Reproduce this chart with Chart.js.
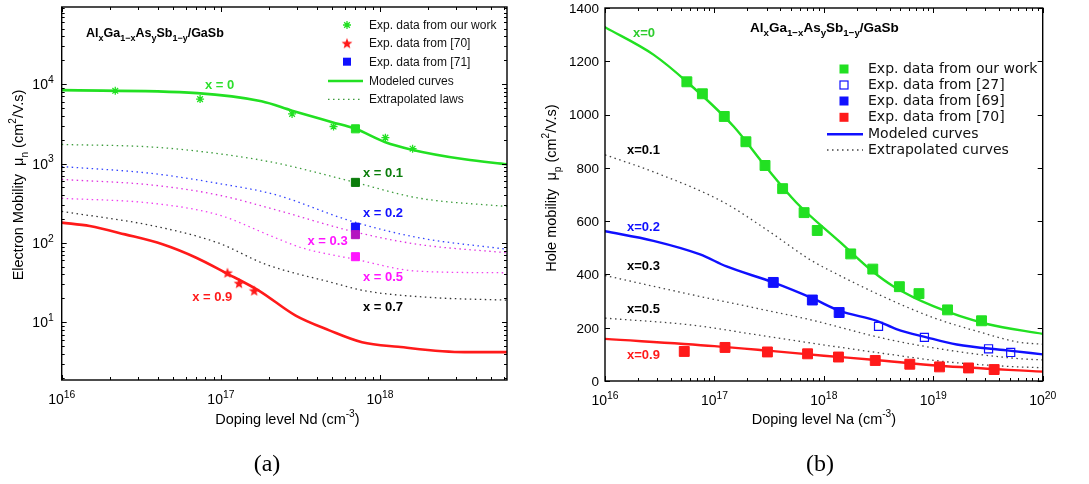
<!DOCTYPE html>
<html><head><meta charset="utf-8">
<script src="https://cdn.jsdelivr.net/npm/chart.js@4"></script>
<style>
html,body{margin:0;padding:0;background:#fff;}
body{width:1089px;height:484px;position:relative;overflow:hidden;}
#ca{position:absolute;left:0;top:0;}
#cb{position:absolute;left:540px;top:0;}
</style></head><body>
<canvas id="ca" width="540" height="484"></canvas>
<canvas id="cb" width="549" height="484"></canvas>
<script>
// ================= (a) Electron mobility =================
const aXTicks = [1e16, 1e17, 1e18];
const aYTicks = [1e1, 1e2, 1e3, 1e4];
const aXRange = [1e16, 6.27e18];
const aYRange = [1.87, 9.4e4];

const aModelX0Nd  = [1e16, 7.1e16, 1.8e17, 2.8e17, 5e17, 7e17, 1.07e18, 1.58e18, 3.4e18, 6.27e18];
const aModelX0Mu  = [8410, 7720, 6080, 4640, 3320, 2740, 1870, 1496, 1130, 980];
const aModelX09Nd = [1e16, 1.5e16, 2.5e16, 4.3e16, 7e16, 1.07e17, 1.74e17, 2.95e17, 4.8e17, 7.7e17, 1.3e18, 3.4e18, 6.27e18];
const aModelX09Mu = [180, 163, 128, 96, 65, 42, 24.9, 12.1, 7.9, 5.6, 4.9, 4.2, 4.2];
const aExtX01Nd = [1e16, 3.7e16, 9.6e16, 2.2e17, 6.6e17, 1.72e18, 6.27e18];
const aExtX01Mu = [1740, 1615, 1334, 1020, 596, 369, 287];
const aExtX02Nd = [1e16, 3.7e16, 9.6e16, 2.2e17, 6.6e17, 1.72e18, 6.27e18];
const aExtX02Mu = [917, 750, 562, 405, 188, 117, 83];
const aExtX03Nd = [1e16, 3.7e16, 9.6e16, 2.2e17, 6.6e17, 1.72e18, 6.27e18];
const aExtX03Mu = [631, 536, 402, 262, 141, 96, 75];
const aExtX05Nd = [1e16, 3.7e16, 9.6e16, 2.2e17, 3.2e17, 7e17, 1.72e18, 6.27e18];
const aExtX05Mu = [365, 316, 226, 116, 87, 62, 44, 42];
const aExtX07Nd = [1e16, 3.7e16, 9.6e16, 1.9e17, 5e17, 8e17, 2.1e18, 6.27e18];
const aExtX07Mu = [249, 165, 100, 54, 31.6, 24.9, 20.5, 19];
const aOurWorkNd = [2.17e16, 7.4e16, 2.8e17, 5.1e17, 1.08e18, 1.6e18];
const aOurWorkMu = [8250, 6490, 4220, 2930, 2120, 1540];
const aRef70Nd = [1.1e17, 1.3e17, 1.62e17];
const aRef70Mu = [42, 31, 25];
const aRef71Nd = [7e17, 7e17, 7e17, 7e17, 7e17];
const aRef71Mu = [2740, 579, 158, 127, 67];
const aRef71Colors = ['#22e022', '#0b7d0b', '#1010ff', '#b414c0', '#ff14ff'];
const aLabelText = ['x = 0', 'x = 0.1', 'x = 0.2', 'x = 0.3', 'x = 0.5', 'x = 0.7', 'x = 0.9'];
const aLabelNd   = [7.95e16, 7.8e17, 7.8e17, 3.5e17, 7.8e17, 7.8e17, 6.6e16];
const aLabelMu   = [9630, 743, 235, 105, 36.2, 15.3, 20.4];
const aLabelColor = ['#2ddf2d', '#0b7d0b', '#1010ff', '#ff14ff', '#ff14ff', '#000000', '#ff1a1a'];

// ================= (b) Hole mobility =================
const bXTicks = [1e16, 1e17, 1e18, 1e19, 1e20];
const bYTicks = [0, 200, 400, 600, 800, 1000, 1200, 1400];
const bXRange = [1e16, 1e20];
const bYRange = [0, 1400];

const bModelX0Na  = [1e16, 2.77e16, 5.6e16, 1.5e17, 3e17, 5.6e17, 1.4e18, 2.8e18, 4.3e18, 1e19, 3.1e19, 1e20];
const bModelX0Mu  = [1328, 1225, 1123, 955, 800, 670, 522, 411, 356, 281, 214, 177];
const bModelX02Na = [1e16, 2.77e16, 7.4e16, 1.29e17, 3.45e17, 8e17, 1.4e18, 3.04e18, 4.6e18, 8.7e18, 1.64e19, 4.7e19, 1e20];
const bModelX02Mu = [562, 526, 475, 430, 370, 309, 263, 226, 195, 164, 137, 115, 100];
const bModelX09Na = [1e16, 1e17, 3.45e17, 1e18, 2.8e18, 1.15e19, 1e20];
const bModelX09Mu = [158, 131, 112, 95, 80, 57, 35];
const bExtX01Na = [1e16, 2.77e16, 1.2e17, 3.2e17, 7.5e17, 1.35e18, 3.7e18, 1e19, 2.7e19, 6e19, 1e20];
const bExtX01Mu = [849, 785, 672, 560, 455, 399, 312, 238, 183, 146, 138];
const bExtX03Na = [1e16, 6.2e16, 2.3e17, 7.5e17, 3.7e18, 1.4e19, 6e19, 1e20];
const bExtX03Mu = [396, 324, 275, 230, 158, 115, 84, 79];
const bExtX05Na = [1e16, 6.2e16, 2.3e17, 7.5e17, 3.7e18, 1.4e19, 6e19, 1e20];
const bExtX05Mu = [236, 210, 175, 143, 102, 71, 53, 50];
const bOurWorkNa = [5.6e16, 7.76e16, 1.23e17, 1.94e17, 2.9e17, 4.2e17, 6.6e17, 8.7e17, 1.76e18, 2.8e18, 4.9e18, 7.4e18, 1.35e19, 2.76e19];
const bOurWorkMu = [1123, 1078, 993, 898, 809, 722, 632, 565, 477, 420, 354, 328, 267, 226];
const bRef27Na = [3.16e18, 8.3e18, 3.2e19, 5.1e19];
const bRef27Mu = [205, 164, 121, 107];
const bRef69Na = [3.45e17, 7.85e17, 1.38e18];
const bRef69Mu = [370, 304, 257];
const bRef70Na = [5.3e16, 1.25e17, 3.05e17, 7.1e17, 1.36e18, 2.95e18, 6.1e18, 1.14e19, 2.1e19, 3.6e19];
const bRef70Mu = [111, 126, 109, 102, 90, 77, 63, 53, 49, 43];
const bLabelText = ['x=0', 'x=0.1', 'x=0.2', 'x=0.3', 'x=0.5', 'x=0.9'];
const bLabelNa   = [1.8e16, 1.59e16, 1.59e16, 1.59e16, 1.59e16, 1.59e16];
const bLabelMu   = [1304, 867, 578, 430, 270, 96];
const bLabelColor = ['#2ecc2e', '#000000', '#1010ff', '#000000', '#000000', '#ff1a1a'];

// ================= helpers =================
const SANS = '"Liberation Sans", Arial, Helvetica, sans-serif';
const DEJA = '"DejaVu Sans", sans-serif';
const SERIF = '"Liberation Serif", "DejaVu Serif", serif';
const GREEN = '#22e022', RED = '#ff1a1a', BLUE = '#1010ff';

function pts(xs, ys) { return xs.map((v, i) => ({x: v, y: ys[i]})); }

function makePentagram(size, color) {
  const c = document.createElement('canvas');
  c.width = size; c.height = size;
  const g = c.getContext('2d');
  const cx = size / 2, cy = size / 2 + 0.5, R = size / 2 - 0.3, r = R * 0.42;
  g.beginPath();
  for (let i = 0; i < 10; i++) {
    const ang = -Math.PI / 2 + i * Math.PI / 5;
    const rr = i % 2 === 0 ? R : r;
    const px = cx + rr * Math.cos(ang), py = cy + rr * Math.sin(ang);
    if (i === 0) g.moveTo(px, py); else g.lineTo(px, py);
  }
  g.closePath();
  g.fillStyle = color; g.fill();
  return c;
}
const pentaRed = makePentagram(12, RED);

function lineDs(xs, ys, color, width, dash, order) {
  return {data: pts(xs, ys), showLine: true, borderColor: color, borderWidth: width,
    borderDash: dash || [], pointRadius: 0, fill: false, cubicInterpolationMode: 'monotone',
    borderCapStyle: dash ? 'butt' : 'round', order: order};
}
function markDs(xs, ys, style, r, fill, stroke, bw) {
  return {data: pts(xs, ys), showLine: false, pointStyle: style, pointRadius: r,
    backgroundColor: fill, borderColor: stroke, borderWidth: bw, order: 0};
}

function drawRich(ctx, parts, x, y, size, opts) {
  const o = Object.assign({weight: 'normal', family: SANS, color: '#000', align: 'left', ratio: 0.7}, opts || {});
  const segs = parts.map(([t, k]) => {
    const s = k === 'n' ? size : size * o.ratio;
    ctx.font = `${o.weight} ${s}px ${o.family}`;
    return {t, k, s, w: ctx.measureText(t).width};
  });
  const total = segs.reduce((a, s) => a + s.w, 0);
  let cx = o.align === 'center' ? x - total / 2 : o.align === 'right' ? x - total : x;
  ctx.fillStyle = o.color; ctx.textBaseline = 'alphabetic'; ctx.textAlign = 'left';
  for (const s of segs) {
    ctx.font = `${o.weight} ${s.s}px ${o.family}`;
    const dy = s.k === 'sub' ? size * 0.33 : s.k === 'sup' ? -size * 0.45 : 0;
    ctx.fillText(s.t, cx, y + dy);
    cx += s.w;
  }
  return total;
}

function logTickList(min, max) {
  const out = [];
  for (let d = Math.floor(Math.log10(min)); d <= Math.ceil(Math.log10(max)); d++) {
    for (let k = 1; k <= 9; k++) {
      const v = k * Math.pow(10, d);
      if (v >= min * 0.9999 && v <= max * 1.0001) out.push({v, major: k === 1});
    }
  }
  return out;
}

function drawMarker(ctx, kind, x, y, color) {
  ctx.save();
  if (kind === 'asterisk') {
    ctx.strokeStyle = color; ctx.lineWidth = 1.3; const r = 4;
    ctx.beginPath();
    ctx.moveTo(x - r, y); ctx.lineTo(x + r, y); ctx.moveTo(x, y - r); ctx.lineTo(x, y + r);
    const q = r * 0.707;
    ctx.moveTo(x - q, y - q); ctx.lineTo(x + q, y + q); ctx.moveTo(x - q, y + q); ctx.lineTo(x + q, y - q);
    ctx.stroke();
  } else if (kind === 'penta') {
    ctx.drawImage(pentaRed, x - 6, y - 6);
  } else if (kind === 'square') {
    ctx.fillStyle = color; ctx.fillRect(x - 4.5, y - 4.5, 9, 9);
  } else if (kind === 'squareS') {
    ctx.fillStyle = color; ctx.fillRect(x - 4, y - 4, 8, 8);
  } else if (kind === 'open') {
    ctx.strokeStyle = color; ctx.lineWidth = 1.2; ctx.strokeRect(x - 4, y - 4, 8, 8);
  }
  ctx.restore();
}

const decorPlugin = {
  id: 'decor',
  afterDatasetsDraw(chart, args, o) {
    const {ctx, chartArea: a, scales: {x, y}} = chart;
    ctx.save();
    // inline labels
    o.labels.forEach(l => {
      ctx.font = `bold ${o.labelSize}px ${SANS}`;
      ctx.fillStyle = l.color; ctx.textAlign = 'left'; ctx.textBaseline = 'middle';
      ctx.fillText(l.text, x.getPixelForValue(l.x), y.getPixelForValue(l.y));
    });
    // frame
    ctx.strokeStyle = '#000'; ctx.lineWidth = 1.4;
    ctx.strokeRect(a.left, a.top, a.right - a.left, a.bottom - a.top);
    // ticks (inward, mirrored)
    ctx.lineWidth = 1;
    const xt = logTickList(x.min, x.max);
    ctx.beginPath();
    xt.forEach(t => {
      const px = Math.round(x.getPixelForValue(t.v)) + 0.5, len = t.major ? 5 : 3;
      ctx.moveTo(px, a.bottom); ctx.lineTo(px, a.bottom - len);
      ctx.moveTo(px, a.top); ctx.lineTo(px, a.top + len);
    });
    const yt = o.yLog ? logTickList(y.min, y.max) : o.yTicks.map(v => ({v, major: true}));
    yt.forEach(t => {
      const py = Math.round(y.getPixelForValue(t.v)) + 0.5, len = t.major ? 5 : 3;
      ctx.moveTo(a.left, py); ctx.lineTo(a.left + len, py);
      ctx.moveTo(a.right, py); ctx.lineTo(a.right - len, py);
    });
    ctx.stroke();
    // tick labels
    o.xTicks.forEach(v => {
      const e = Math.round(Math.log10(v));
      drawRich(ctx, [['10', 'n'], [String(e), 'sup']], x.getPixelForValue(v), a.bottom + 24, o.tickSize, {align: 'center', ratio: 0.74});
    });
    o.yTicks.forEach(v => {
      const py = y.getPixelForValue(v);
      if (o.yLog) {
        const e = Math.round(Math.log10(v));
        drawRich(ctx, [['10', 'n'], [String(e), 'sup']], a.left - 8, py + 5, o.tickSize, {align: 'right', ratio: 0.74});
      } else {
        drawRich(ctx, [[String(v), 'n']], a.left - 6, py + 4.8, o.yTickSize, {align: 'right'});
      }
    });
    // axis titles
    drawRich(ctx, o.xTitle, (a.left + a.right) / 2 + o.xTitleDx, 424, o.titleSize, {align: 'center'});
    ctx.save();
    ctx.translate(o.yTitleX, o.yTitleY);
    ctx.rotate(-Math.PI / 2);
    drawRich(ctx, o.yTitle, 0, 0, o.titleSize, {align: 'center'});
    ctx.restore();
    // chart title
    drawRich(ctx, o.head, o.headX, o.headY, o.headSize, {weight: 'bold', ratio: 0.72});
    // legend
    o.legend.forEach((it, i) => {
      const yy = o.legendRows[i];
      if (it.line) {
        ctx.save();
        ctx.strokeStyle = it.color; ctx.lineWidth = it.width; ctx.setLineDash(it.dash || []);
        ctx.beginPath(); ctx.moveTo(o.legendLine[0], yy); ctx.lineTo(o.legendLine[1], yy); ctx.stroke();
        ctx.restore();
      } else {
        drawMarker(ctx, it.marker, o.legendMarkX, yy, it.color);
      }
      ctx.font = `${o.legendSize}px ${o.legendFont}`;
      ctx.fillStyle = '#111'; ctx.textAlign = 'left'; ctx.textBaseline = 'middle';
      ctx.fillText(it.text, o.legendTextX, yy + 0.5);
    });
    // caption
    ctx.font = `24px ${SERIF}`; ctx.fillStyle = '#000'; ctx.textAlign = 'center'; ctx.textBaseline = 'alphabetic';
    ctx.fillText(o.caption, o.captionX, 471);
    ctx.restore();
  }
};

const headParts = [['Al', 'n'], ['x', 'sub'], ['Ga', 'n'], ['1\u2212x', 'sub'], ['As', 'n'], ['y', 'sub'], ['Sb', 'n'], ['1\u2212y', 'sub'], ['/GaSb', 'n']];

function baseOptions(pad, xr, yr, yType, decor) {
  return {
    responsive: false, animation: false, devicePixelRatio: 1, events: [],
    layout: {padding: pad},
    scales: {
      x: {type: 'logarithmic', min: xr[0], max: xr[1], display: false},
      y: {type: yType, min: yr[0], max: yr[1], display: false}
    },
    plugins: {legend: {display: false}, tooltip: {enabled: false}, decor: decor}
  };
}

// ---------- chart (a) ----------
const aDatasets = [
  markDs(aOurWorkNd, aOurWorkMu, 'star', 4, GREEN, GREEN, 1.3),
  markDs(aRef70Nd, aRef70Mu, pentaRed, 6, RED, RED, 1),
  markDs(aRef71Nd, aRef71Mu, 'rect', 5.7, aRef71Colors, aRef71Colors, 1),
  lineDs(aModelX0Nd, aModelX0Mu, GREEN, 2.6, null, 1),
  lineDs(aModelX09Nd, aModelX09Mu, RED, 2.6, null, 1),
  lineDs(aExtX01Nd, aExtX01Mu, '#3c9c3c', 1.3, [1.5, 3.5], 2),
  lineDs(aExtX02Nd, aExtX02Mu, '#3344ff', 1.3, [1.5, 3.5], 2),
  lineDs(aExtX03Nd, aExtX03Mu, '#e030e0', 1.3, [1.5, 3.5], 2),
  lineDs(aExtX05Nd, aExtX05Mu, '#f040f0', 1.3, [1.5, 3.5], 2),
  lineDs(aExtX07Nd, aExtX07Mu, '#333333', 1.3, [1.5, 3.5], 2)
];
new Chart(document.getElementById('ca'), {
  type: 'scatter',
  data: {datasets: aDatasets},
  plugins: [decorPlugin],
  options: baseOptions({left: 61.7, top: 4, right: 33, bottom: 104}, aXRange, aYRange, 'logarithmic', {
    yLog: true, xTicks: aXTicks, yTicks: aYTicks, tickSize: 14, yTickSize: 14, titleSize: 14.5, labelSize: 13,
    labels: aLabelText.map((t, i) => ({text: t, x: aLabelNd[i], y: aLabelMu[i], color: aLabelColor[i]})),
    xTitle: [['Doping level Nd (cm', 'n'], ['-3', 'sup'], [')', 'n']], xTitleDx: 3,
    yTitle: [['Electron Mobility  \u03bc', 'n'], ['n', 'sub'], [' (cm', 'n'], ['2', 'sup'], ['/V.s)', 'n']],
    yTitleX: 23, yTitleY: 185,
    head: headParts, headX: 86, headY: 36.5, headSize: 12.5,
    legend: [
      {marker: 'asterisk', color: GREEN, text: 'Exp. data from our work'},
      {marker: 'penta', color: RED, text: 'Exp. data from [70]'},
      {marker: 'squareS', color: BLUE, text: 'Exp. data from [71]'},
      {line: true, color: GREEN, width: 2.6, text: 'Modeled curves'},
      {line: true, color: '#3c9c3c', width: 1.3, dash: [1.5, 3.5], text: 'Extrapolated laws'}
    ],
    legendRows: [25, 43.3, 61.7, 81, 99.3], legendMarkX: 347, legendLine: [328, 363], legendTextX: 369,
    legendSize: 12, legendFont: SANS,
    caption: '(a)', captionX: 267
  })
});

// ---------- chart (b) ----------
const bDatasets = [
  markDs(bOurWorkNa, bOurWorkMu, 'rect', 7, GREEN, GREEN, 1),
  markDs(bRef27Na, bRef27Mu, 'rect', 5.7, 'rgba(255,255,255,0)', BLUE, 1.2),
  markDs(bRef69Na, bRef69Mu, 'rect', 7, BLUE, BLUE, 1),
  markDs(bRef70Na, bRef70Mu, 'rect', 7, RED, RED, 1),
  lineDs(bModelX0Na, bModelX0Mu, GREEN, 2.4, null, 1),
  lineDs(bModelX02Na, bModelX02Mu, BLUE, 2.4, null, 1),
  lineDs(bModelX09Na, bModelX09Mu, RED, 2.4, null, 1),
  lineDs(bExtX01Na, bExtX01Mu, '#444444', 1.3, [1.5, 3.5], 2),
  lineDs(bExtX03Na, bExtX03Mu, '#444444', 1.3, [1.5, 3.5], 2),
  lineDs(bExtX05Na, bExtX05Mu, '#444444', 1.3, [1.5, 3.5], 2)
];
new Chart(document.getElementById('cb'), {
  type: 'scatter',
  data: {datasets: bDatasets},
  plugins: [decorPlugin],
  options: baseOptions({left: 65, top: 4, right: 46.3, bottom: 103}, bXRange, bYRange, 'linear', {
    yLog: false, xTicks: bXTicks, yTicks: bYTicks, tickSize: 14, yTickSize: 13.5, titleSize: 14.5, labelSize: 13,
    labels: bLabelText.map((t, i) => ({text: t, x: bLabelNa[i], y: bLabelMu[i], color: bLabelColor[i]})),
    xTitle: [['Doping level Na (cm', 'n'], ['-3', 'sup'], [')', 'n']], xTitleDx: 0,
    yTitle: [['Hole mobility  \u03bc', 'n'], ['p', 'sub'], [' (cm', 'n'], ['2', 'sup'], ['/V.s)', 'n']],
    yTitleX: 16, yTitleY: 188,
    head: headParts, headX: 210, headY: 31.7, headSize: 13.5,
    legend: [
      {marker: 'square', color: GREEN, text: 'Exp. data from our work'},
      {marker: 'open', color: BLUE, text: 'Exp. data from [27]'},
      {marker: 'square', color: BLUE, text: 'Exp. data from [69]'},
      {marker: 'square', color: RED, text: 'Exp. data from [70]'},
      {line: true, color: BLUE, width: 2.4, text: 'Modeled curves'},
      {line: true, color: '#444444', width: 1.3, dash: [1.5, 3.5], text: 'Extrapolated curves'}
    ],
    legendRows: [69, 85, 101, 117.3, 134.3, 150], legendMarkX: 304, legendLine: [287, 323], legendTextX: 328,
    legendSize: 14, legendFont: DEJA,
    caption: '(b)', captionX: 280
  })
});
</script>
</body></html>
